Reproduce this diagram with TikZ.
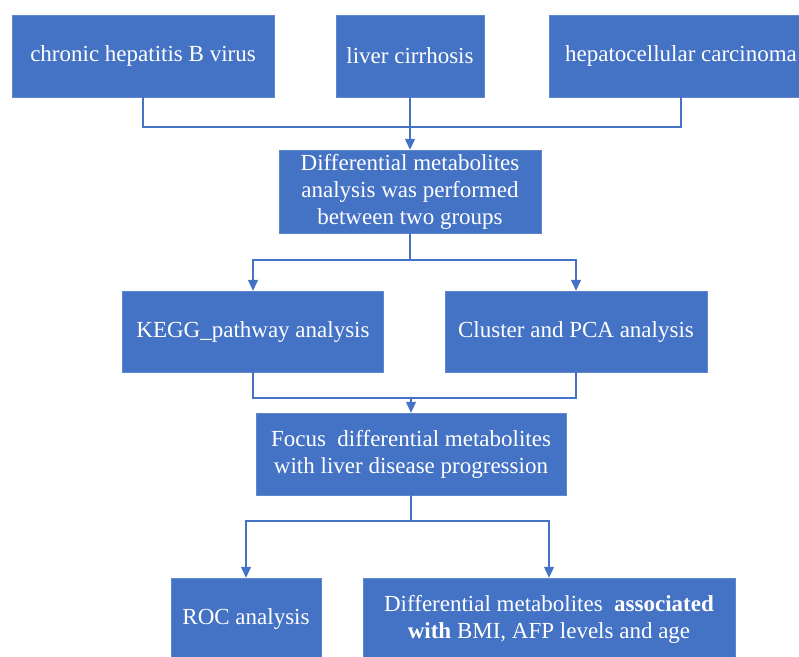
\documentclass[tikz,border=0pt]{standalone}
\usepackage{fontspec}
\setmainfont{Liberation Serif}
\usetikzlibrary{arrows.meta}
\definecolor{boxblue}{HTML}{4472C4}

\begin{document}
\begin{tikzpicture}[
            x = 1pt, y = -1pt,
            every node/.style = {draw = boxblue!85!white, fill = boxblue, text = white, inner sep = 0pt,
                                 align = center, font = \fontsize{23}{27}\selectfont},
            link/.style = {draw = boxblue, line width = 1.2pt},
            arrow/.style = {link, -{Triangle[width = 10pt, length = 11pt]}}
        ]
        \useasboundingbox (0,0) rectangle (799,656);
        % first row
        \node[minimum width = 262pt, minimum height = 82pt] (hbv) at (143,56) {chronic hepatitis B virus};
        \node[minimum width = 148pt, minimum height = 82pt] (lc) at (410,56) {liver cirrhosis};
        \node[minimum width = 264pt, minimum height = 82pt] (hcc) at (681,56) {hepatocellular carcinoma};
        \node[minimum width = 262pt, minimum height = 83pt] (diff) at (410,191.5)
            {Differential metabolites\\analysis was performed\\between two groups};
        % second row
        \node[minimum width = 261pt, minimum height = 81pt] (kegg) at (253,331.5) {KEGG\_pathway analysis};
        \node[minimum width = 262pt, minimum height = 81pt] (pca) at (576,331.5) {Cluster and PCA analysis};
        \node[minimum width = 310pt, minimum height = 82pt] (focus) at (411,454)
            {Focus~ differential metabolites\\with liver disease progression};
        % last row
        \node[minimum width = 150pt, minimum height = 82pt] (roc) at (246,619) {ROC analysis};
        \node[minimum width = 372pt, minimum height = 82pt] (assoc) at (549,619)
            {Differential metabolites~ \textbf{associated}\\\textbf{with} BMI, AFP levels and age};

        \coordinate (j1) at (410,127);
        \coordinate (j2) at (410,260);
        \coordinate (j3) at (411,398);
        \coordinate (j4) at (411,521);

        \draw[link] (hbv.south) |- (j1) -| (hcc.south);
        \draw[arrow] (lc.south) -- (diff.north);
        \draw[link] (diff.south) -- (j2);
        \draw[arrow] (j2) -| (kegg.north);
        \draw[arrow] (j2) -| (pca.north);
        \draw[link] (kegg.south) |- (j3) -| (pca.south);
        \draw[arrow] (j3) -- (focus.north);
        \draw[link] (focus.south) -- (j4);
        \draw[arrow] (j4) -| (roc.north);
        \draw[arrow] (j4) -| (assoc.north);
    \end{tikzpicture}
\end{document}
